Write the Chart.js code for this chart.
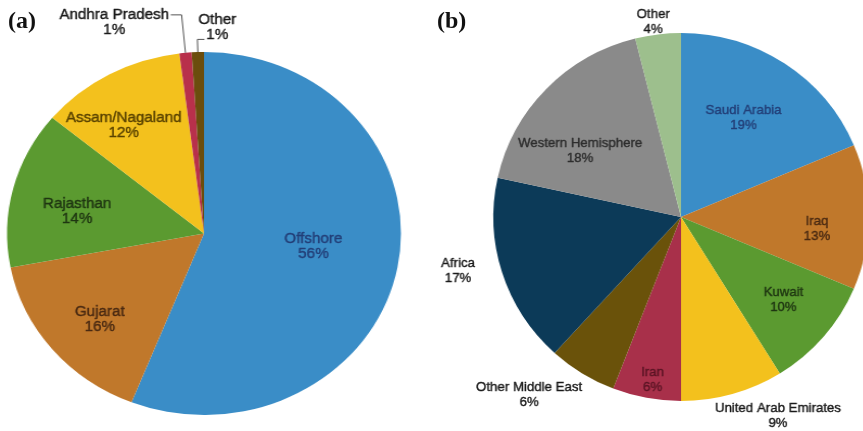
<!DOCTYPE html>
<html>
<head>
<meta charset="utf-8">
<script src="https://cdn.jsdelivr.net/npm/chart.js@4"></script>
<style>
  html, body { margin: 0; padding: 0; background: #ffffff; }
  body { width: 863px; height: 431px; position: relative; overflow: hidden; }
  .panel { position: absolute; top: 0; }
  .tag { position: absolute; top: 8px; font: bold 24px "Liberation Serif", "Times New Roman", serif; line-height: 24px; color: #111; }
  canvas { display: block; }
</style>
</head>
<body>
<div class="panel" id="panelA" style="left:0; width:408px; height:431px; transform: scaleX(1.085); transform-origin: 204px 50%;">
  <canvas id="pieA" width="408" height="431"></canvas>
</div>
<div class="panel" id="panelB" style="left:420px; width:522px; height:431px; transform: scaleX(1.02); transform-origin: 261px 50%;">
  <canvas id="pieB" width="522" height="431"></canvas>
</div>
<div class="tag" style="left:8px;">(a)</div>
<div class="tag" style="left:437px;">(b)</div>

<script>
// (a) domestic production by region, percent share
const indiaRegions = ['Offshore', 'Gujarat', 'Rajasthan', 'Assam/Nagaland', 'Andhra Pradesh', 'Other'];
const indiaShares = [56, 16, 14, 12, 1, 1];
const indiaColors = ['#3a8dc7', '#c0782b', '#5b9a30', '#f3c11d', '#b8304b', '#6b4d0d'];
const indiaTextColors = ['#233f78', '#4a2a12', '#1f3612', '#5a4300', '#1a1a1a', '#1a1a1a'];
// label anchor: [radius as fraction of pie radius, angle shift in degrees from slice middle]
const indiaLabelPlace = [[0.56, -3.5], [0.71, -2.2], [0.655, -4], [0.72, -5.7], [1.25, -16], [1.137, 5.2]];
// leader lines: [elbow radius fraction, horizontal run in px] or null
const indiaLeaders = [null, null, null, null, [1.21, -10], [1.07, 6.5]];

// (b) crude imports by source, percent share
const importSources = ['Saudi Arabia', 'Iraq', 'Kuwait', 'United Arab Emirates', 'Iran', 'Other Middle East', 'Africa', 'Western Hemisphere', 'Other'];
const importShares = [19, 13, 10, 9, 6, 6, 17, 18, 4];
const importColors = ['#3a8dc7', '#c0782b', '#5b9a30', '#f3c11d', '#a8304a', '#6a520a', '#0c3a58', '#8a8a8a', '#9dbf8d'];
const importTextColors = ['#233f78', '#4a2a12', '#1f3612', '#1a1a1a', '#5a1424', '#1a1a1a', '#1a1a1a', '#2e2e2e', '#1a1a1a'];
const importLabelPlace = [[0.635, -1.9], [0.727, 4.9], [0.708, -1], [1.196, -9.7], [0.9, -0.9], [1.26, 8.2], [1.223, 3.9], [0.648, -10.2], [1.07, -0.9]];
const importLeaders = [null, null, null, null, null, null, null, null, null];

// Draws "Name / NN%" labels for each slice, with optional elbow leader lines
function sliceLabels(names, values, textColors, place, leaders, fontPx) {
  return {
    id: 'sliceLabels',
    afterDatasetsDraw(chart) {
      const ctx = chart.ctx;
      const arcs = chart.getDatasetMeta(0).data;
      ctx.save();
      ctx.textAlign = 'center';
      ctx.textBaseline = 'middle';
      ctx.font = fontPx + 'px "Liberation Sans", Arial, sans-serif';
      arcs.forEach((arc, i) => {
        const p = arc.getProps(['x', 'y', 'startAngle', 'endAngle', 'outerRadius'], true);
        const mid = (p.startAngle + p.endAngle) / 2;
        const R = p.outerRadius;
        const lead = leaders[i];
        if (lead) {
          const ex = p.x + Math.cos(mid) * R * lead[0];
          const ey = p.y + Math.sin(mid) * R * lead[0];
          ctx.beginPath();
          ctx.strokeStyle = '#555555';
          ctx.lineWidth = 1;
          ctx.moveTo(p.x + Math.cos(mid) * R, p.y + Math.sin(mid) * R);
          ctx.lineTo(ex, ey);
          ctx.lineTo(ex + lead[1], ey);
          ctx.stroke();
        }
        const a = mid + place[i][1] * Math.PI / 180;
        const r = R * place[i][0];
        const tx = p.x + Math.cos(a) * r;
        const ty = p.y + Math.sin(a) * r;
        // thin outline in the same colour gives the labels a slightly heavier weight
        ctx.fillStyle = textColors[i];
        ctx.strokeStyle = textColors[i];
        ctx.lineWidth = 0.4;
        ctx.lineJoin = 'round';
        [[names[i], ty - 7.5], [values[i] + '%', ty + 7.5]].forEach(([t, yy]) => {
          ctx.fillText(t, tx, yy);
          ctx.strokeText(t, tx, yy);
        });
      });
      ctx.restore();
    }
  };
}

function pieConfig(names, values, colors, padding, plugin) {
  return {
    type: 'pie',
    data: {
      labels: names,
      datasets: [{ data: values, backgroundColor: colors, borderWidth: 0 }]
    },
    options: {
      responsive: false,
      animation: false,
      events: [],
      layout: { padding: padding },
      plugins: { legend: { display: false }, tooltip: { enabled: false } }
    },
    plugins: [plugin]
  };
}

new Chart(document.getElementById('pieA'), pieConfig(
  indiaRegions, indiaShares, indiaColors,
  { top: 52, bottom: 16, left: 22.5, right: 22.5 },
  sliceLabels(indiaRegions, indiaShares, indiaTextColors, indiaLabelPlace, indiaLeaders, 14)
));

new Chart(document.getElementById('pieB'), pieConfig(
  importSources, importShares, importColors,
  { top: 33, bottom: 30, left: 77, right: 77 },
  sliceLabels(importSources, importShares, importTextColors, importLabelPlace, importLeaders, 13)
));
</script>
</body>
</html>
